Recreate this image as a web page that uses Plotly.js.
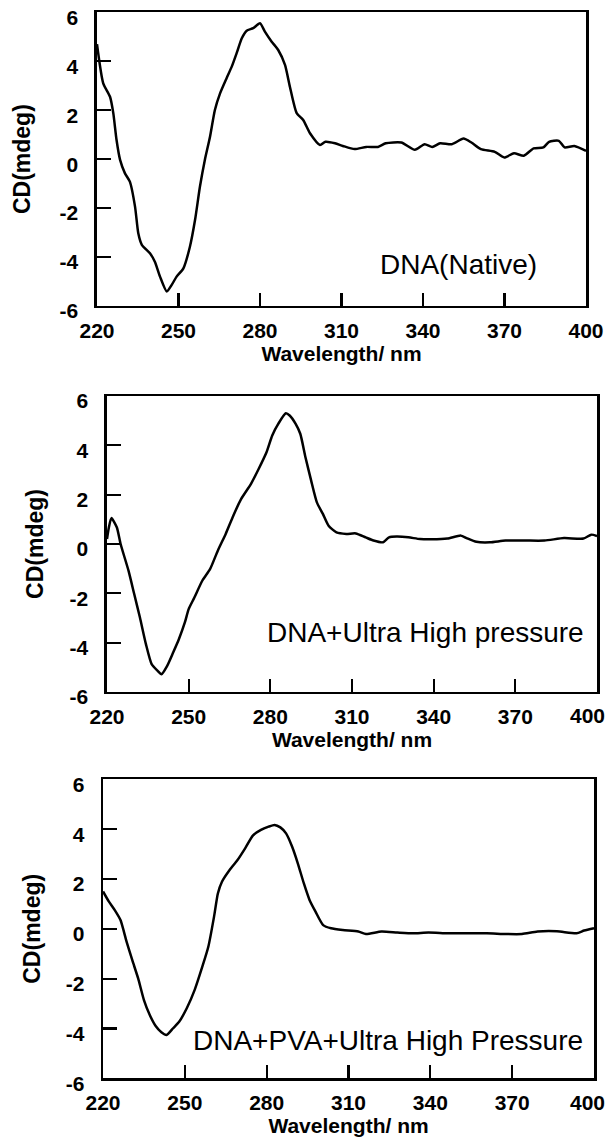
<!DOCTYPE html>
<html>
<head>
<meta charset="utf-8">
<script src="https://cdn.plot.ly/plotly-3.0.1.min.js"></script>
<style>html,body{margin:0;padding:0;background:#fff;}#chart{width:610px;height:1140px;}</style>
</head>
<body>
<div id="chart"></div>
<script>
// Panel 1: DNA (Native)
const wl1 = [220, 222.3, 224.8, 226, 227.2, 228.5, 230.3, 232.1, 234, 235.2, 236.5, 239.5, 241.3, 243.2, 245.7, 247.5, 249.3, 251.8, 254.2, 256.1, 257.9, 259.7, 261.6, 263.4, 265.3, 267.7, 269.6, 271.4, 273.3, 275.1, 277.5, 280, 281.8, 284.3, 286.7, 289.2, 291, 293.5, 295.9, 298.4, 302.1, 304.1, 307.6, 310.5, 314.8, 319.1, 323.4, 326.3, 332, 337, 340.6, 343.4, 346.3, 350.6, 354.9, 357.8, 361.3, 366.4, 369.9, 373.5, 377.1, 380.7, 384.3, 386.4, 390, 392.1, 395.7, 400];
const cd1 = [4.7, 3.1, 2.55, 1.88, 0.78, -0.03, -0.58, -0.92, -1.94, -3.03, -3.5, -3.85, -4.19, -4.8, -5.41, -5.14, -4.8, -4.46, -3.58, -2.48, -1.12, -0.03, 0.92, 2.01, 2.69, 3.31, 3.78, 4.33, 4.94, 5.25, 5.35, 5.55, 5.21, 4.8, 4.46, 3.85, 2.96, 1.88, 1.6, 1.06, 0.58, 0.71, 0.65, 0.54, 0.41, 0.5, 0.5, 0.65, 0.68, 0.38, 0.61, 0.5, 0.65, 0.61, 0.84, 0.68, 0.41, 0.3, 0.07, 0.24, 0.14, 0.44, 0.48, 0.71, 0.75, 0.48, 0.54, 0.34];

// Panel 2: DNA + Ultra High pressure
const wl2 = [220, 220.7, 221.6, 223.6, 225, 227.9, 230, 232.1, 234.3, 236.4, 238.6, 240, 242.1, 244.3, 246.4, 248.6, 250, 252.1, 255, 257.9, 260.7, 263.6, 266.4, 269.3, 272.9, 275.7, 278.6, 280.7, 282.9, 285.7, 287.1, 289.3, 291, 292.9, 295, 297.1, 299.3, 301.4, 304.3, 307.9, 311.4, 315, 317.9, 321.4, 323.6, 326.4, 330.7, 335, 339.3, 345, 350, 352.1, 355.7, 360.7, 366.4, 373.6, 380.7, 387.9, 395, 397.9, 400];
const cd2 = [0.2, 0.68, 1.05, 0.68, 0, -1.08, -2.03, -2.98, -4.06, -4.87, -5.14, -5.28, -4.94, -4.4, -3.86, -3.18, -2.64, -2.17, -1.49, -1.01, -0.27, 0.41, 1.15, 1.83, 2.44, 3.04, 3.72, 4.4, 4.87, 5.3, 5.21, 4.87, 4.47, 3.52, 2.57, 1.69, 1.22, 0.74, 0.47, 0.41, 0.43, 0.27, 0.14, 0.07, 0.27, 0.3, 0.27, 0.2, 0.19, 0.22, 0.34, 0.24, 0.09, 0.07, 0.14, 0.14, 0.14, 0.24, 0.22, 0.38, 0.32];

// Panel 3: DNA + PVA + Ultra High Pressure
const wl3 = [220, 222.1, 224.3, 226.4, 228.6, 230.7, 232.9, 235, 237.1, 239.3, 241.4, 243.3, 245.7, 247.9, 250.7, 253.6, 256.4, 258.6, 260.7, 262.1, 263.6, 266.4, 269.3, 272.1, 275, 277.9, 280.7, 282.9, 285, 287.1, 289.3, 291.4, 293.6, 295.7, 297.9, 300.7, 303.6, 307.9, 313.6, 316.4, 322.1, 327.9, 333.6, 339.3, 346.4, 353.6, 360.7, 367.9, 373.6, 379.3, 386.4, 393.6, 396.4, 400];
const cd3 = [1.5, 1.1, 0.75, 0.35, -0.5, -1.25, -2.0, -2.86, -3.45, -3.9, -4.15, -4.26, -3.99, -3.73, -3.19, -2.45, -1.52, -0.72, 0.49, 1.42, 1.89, 2.36, 2.76, 3.23, 3.75, 3.97, 4.1, 4.17, 4.07, 3.83, 3.3, 2.63, 1.83, 1.16, 0.69, 0.15, 0.02, -0.05, -0.11, -0.21, -0.11, -0.15, -0.18, -0.15, -0.18, -0.18, -0.18, -0.21, -0.21, -0.11, -0.1, -0.18, -0.07, 0.02];

const xTickVals = [220, 250, 280, 310, 340, 370, 400];
const xTickText1 = ['220', '250', '280', '310', '340', '370', '400'];
// in panels 2 and 3 the last label sits at the page edge; it is drawn as a right-aligned label below
const xTickTextEdge = ['220', '250', '280', '310', '340', '370', ''];
const edgeLabel = '400';
const yTickVals = [-6, -4, -2, 0, 2, 4, 6];
const yTickText = ['-6', '-4', '-2', '0', '2', '4', '6'];
const xTitle = 'Wavelength/ nm';
const yTitle = 'CD(mdeg)';
const labels = ['DNA(Native)', 'DNA+Ultra High pressure', 'DNA+PVA+Ultra High Pressure'];
const labelPos = [[353, -4.3], [337, -3.6], [324.5, -4.5]];

const FONT = 'Liberation Sans, Arial, Helvetica, sans-serif';
const tickFont = {family: FONT, size: 21, color: '#000', weight: 'bold'};

function xAxis(anchor, domain, tickText) {
  return {
    anchor: anchor, domain: domain, range: [220, 400],
    tickmode: 'array', tickvals: xTickVals, ticktext: tickText,
    ticks: 'inside', ticklen: 13, tickwidth: 2.2, tickcolor: '#000',
    showline: true, linewidth: 2.5, linecolor: '#000', mirror: true,
    showgrid: false, zeroline: false,
    tickfont: tickFont,
    ticklabelstandoff: 4, ticklabeloverflow: 'allow',
    title: {text: xTitle, font: {family: FONT, size: 21, color: '#000', weight: 'bold'}, standoff: 5}
  };
}
function yAxis(anchor, domain, titleStandoff) {
  return {
    anchor: anchor, domain: domain, range: [-6, 6],
    tickmode: 'array', tickvals: yTickVals, ticktext: yTickText,
    ticks: 'inside', ticklen: 14, tickwidth: 2.2, tickcolor: '#000',
    showline: true, linewidth: 2.5, linecolor: '#000', mirror: true,
    showgrid: false, zeroline: false,
    tickfont: tickFont,
    ticklabelstandoff: 12, ticklabelshift: 5, ticklabeloverflow: 'allow',
    title: {text: yTitle, font: {family: FONT, size: 23, color: '#000', weight: 'bold'}, standoff: titleStandoff}
  };
}

const lineStyle = {color: '#000', width: 2.5, shape: 'spline', smoothing: 0.6};
const data = [
  {x: wl1, y: cd1, xaxis: 'x', yaxis: 'y', type: 'scatter', mode: 'lines', line: lineStyle, name: labels[0]},
  {x: wl2, y: cd2, xaxis: 'x2', yaxis: 'y2', type: 'scatter', mode: 'lines', line: lineStyle, name: labels[1]},
  {x: wl3, y: cd3, xaxis: 'x3', yaxis: 'y3', type: 'scatter', mode: 'lines', line: lineStyle, name: labels[2]}
];

const refs = [['x', 'y'], ['x2', 'y2'], ['x3', 'y3']];
const annotations = labels.map((t, i) => ({
  xref: refs[i][0], yref: refs[i][1], x: labelPos[i][0], y: labelPos[i][1],
  text: t, showarrow: false, xanchor: 'center', yanchor: 'middle',
  font: {family: FONT, size: 28, color: '#000'}
}));
// edge tick labels for panels 2 and 3, anchored to the x = 400 tick
[[1, 10], [2, 13]].forEach(([i, shift]) => {
  annotations.push({
    xref: refs[i][0], yref: refs[i][1], x: xTickVals[xTickVals.length - 1], y: yTickVals[0],
    text: edgeLabel, showarrow: false, xanchor: 'right', yanchor: 'middle',
    xshift: shift, yshift: -24, font: tickFont
  });
});

const layout = {
  width: 610, height: 1140,
  margin: {l: 0, r: 0, t: 0, b: 0},
  paper_bgcolor: '#fff', plot_bgcolor: '#fff',
  showlegend: false,
  xaxis: xAxis('y', [0.159, 0.9607], xTickText1),
  yaxis: yAxis('x', [0.7316, 0.9892], 23),
  xaxis2: xAxis('y2', [0.1754, 0.9787], xTickTextEdge),
  yaxis2: yAxis('x2', [0.3930, 0.6526], 20),
  xaxis3: xAxis('y3', [0.1689, 0.9738], xTickTextEdge),
  yaxis3: yAxis('x3', [0.0541, 0.3164], 19),
  annotations: annotations
};

Plotly.newPlot('chart', data, layout, {staticPlot: true, displayModeBar: false});
</script>
</body>
</html>
